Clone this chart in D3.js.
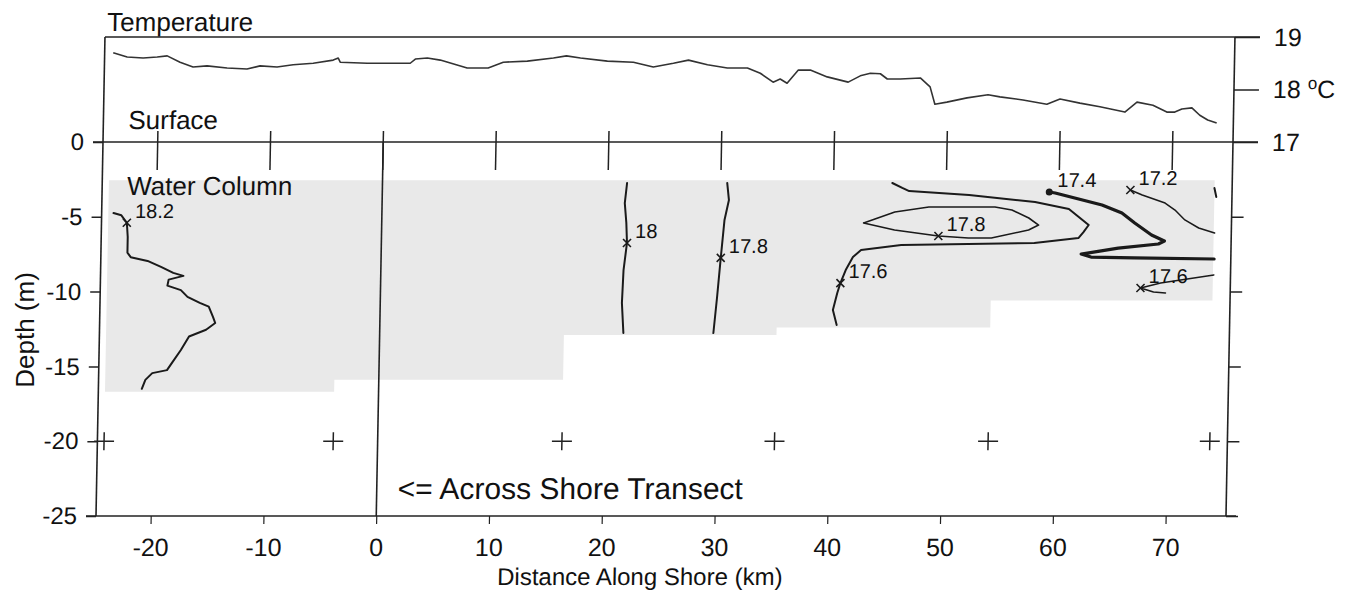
<!DOCTYPE html>
<html><head><meta charset="utf-8">
<script src="https://cdn.jsdelivr.net/npm/d3@7"></script>
<style>
html,body{margin:0;padding:0;background:#fff;}
svg{display:block;font-family:"Liberation Sans",Arial,Helvetica,sans-serif;}
</style></head><body>
<svg id="chart" width="1358" height="596"></svg>
<script>
// ---------------- DATA ----------------
const xTicks = [-20, -10, 0, 10, 20, 30, 40, 50, 60, 70];
const depthTicks = [0, -5, -10, -15, -20, -25];
const depthRightTicks = [-5, -10, -15, -20, -25];
const tempTicks = [17, 18, 19];
const tempUnit = "C";

// surface temperature along shore: [km, degC]
const surfaceTemperature = [
 [-24.09,18.70],[-22.85,18.62],[-21.43,18.60],[-20.19,18.62],[-19.30,18.64],[-18.15,18.52],
 [-16.99,18.43],[-15.75,18.45],[-13.97,18.41],[-12.20,18.39],[-11.05,18.45],[-9.54,18.43],
 [-8.12,18.47],[-6.34,18.50],[-4.57,18.56],[-4.13,18.60],[-3.95,18.52],[-1.55,18.50],
 [2.26,18.50],[2.71,18.58],[3.77,18.60],[4.92,18.56],[7.32,18.41],[9.18,18.41],
 [10.51,18.52],[12.64,18.54],[14.95,18.60],[16.10,18.64],[17.35,18.60],[19.74,18.54],
 [22.05,18.52],[23.82,18.43],[25.60,18.50],[26.93,18.56],[28.62,18.47],[30.39,18.41],
 [32.17,18.41],[33.32,18.31],[34.47,18.14],[35.09,18.20],[35.71,18.12],[36.69,18.37],
 [37.75,18.37],[39.26,18.24],[41.13,18.14],[42.19,18.26],[43.08,18.31],[43.97,18.30],
 [44.59,18.20],[45.74,18.20],[47.52,18.22],[48.40,18.05],[48.85,17.72],[49.91,17.76],
 [51.69,17.84],[53.55,17.90],[54.61,17.86],[56.66,17.80],[58.78,17.72],[59.94,17.82],
 [61.71,17.74],[63.49,17.67],[65.71,17.57],[66.77,17.76],[68.19,17.70],[69.43,17.57],
 [70.14,17.57],[70.76,17.63],[71.65,17.65],[72.36,17.51],[73.07,17.42],[73.87,17.36]
];

// station positions (km) at depth -20 m
const stationKm = [-24.26, -3.94, 16.34, 35.19, 54.13, 73.79];
const stationDepth = -20;

// sampled water column coverage between stations: top depth and bottom depth per segment
const coverageTop = -2.55;
const coverageBottom = [-16.7, -15.9, -12.9, -12.4, -10.6];

// across-shore water column profile (km, depth)
const profile182 = [
 [-23.8,-4.75],[-23.1,-4.9],[-22.6,-5.4],[-22.5,-6.35],[-22.5,-7.4],[-22.2,-7.7],[-20.7,-7.95],
 [-19.5,-8.35],[-18.4,-8.75],[-17.5,-8.95],[-18.8,-9.2],[-18.9,-9.6],[-17.7,-9.9],[-17.1,-10.35],
 [-16.0,-10.75],[-15.2,-11.0],[-14.8,-11.7],[-14.6,-12.1],[-15.4,-12.55],[-16.9,-13.0],
 [-17.6,-13.9],[-18.4,-14.8],[-18.8,-15.25],[-20.1,-15.45],[-20.7,-15.9],[-21.0,-16.5]
];
const contour18 = [[21.69,-2.74],[21.52,-4.08],[21.69,-5.41],[21.78,-6.75],[21.52,-8.56],[21.43,-10.76],[21.61,-12.77]];
const contour178a = [[30.57,-2.74],[30.75,-3.88],[30.39,-5.21],[30.12,-7.75],[29.86,-10.36],[29.59,-12.77]];
const contour176a = [
 [45.21,-2.74],[46.10,-3.07],[46.72,-3.28],[52.04,-3.54],[57.90,-4.01],[60.91,-4.48],[61.80,-5.01],
 [62.69,-5.55],[62.24,-6.02],[61.80,-6.42],[57.90,-6.75],[46.10,-6.89],[42.55,-7.22],[41.84,-7.69],
 [41.22,-8.56],[40.77,-9.43],[40.51,-10.09],[40.15,-11.23],[40.51,-12.23]
];
const contour178b = [
 [42.73,-5.41],[45.48,-4.68],[48.49,-4.34],[54.35,-4.34],[55.86,-4.55],[57.37,-5.08],[58.25,-5.55],
 [57.37,-5.88],[54.08,-6.42],[52.04,-6.42],[49.38,-6.28],[45.48,-5.88],[42.73,-5.41]
];
const contour174 = [
 [59.14,-3.34],[59.67,-3.41],[63.84,-4.21],[65.62,-4.75],[66.77,-5.41],[68.28,-6.22],[69.43,-6.62],
 [68.90,-6.82],[65.35,-7.09],[62.07,-7.49],[62.95,-7.69],[66.77,-7.75],[73.87,-7.82]
];
const contour172 = [[66.33,-3.21],[67.39,-3.54],[69.43,-4.08],[70.32,-4.55],[71.21,-5.21],[72.45,-5.75],[73.87,-6.08]];
const contourStub = [[73.78,-3.07],[73.96,-3.68]];
const contour176b = [[73.87,-8.89],[69.17,-9.43],[67.39,-9.76],[68.55,-10.03],[69.61,-10.09]];

// labelled isotherms
const isoLabels = ["18.2", "18", "17.8", "17.6", "17.8", "17.4", "17.2", "17.6"];
const isoAnchors = [[-22.6,-5.4],[21.78,-6.75],[30.12,-7.75],[40.77,-9.43],[49.38,-6.28],[59.14,-3.34],[66.33,-3.21],[67.39,-9.76]];
const isoLines = [profile182, contour18, contour178a, contour176a, contour178b, contour174, contour172, contour176b];

// ---------------- LAYOUT ----------------
const svg = d3.select("#chart");
const L = 96, R = 1226, TOP = 37, Y0 = 142, B = 516;
const ink = "#222";
const FONT = "Liberation Sans, Arial, sans-serif";
const fmt = d => String(d); // plain hyphen-minus as in the original
const x = d3.scaleLinear().domain([-24.85, 75.35]).range([L, R]);
const yD = d3.scaleLinear().domain([0, -25]).range([Y0, B]);
const yT = d3.scaleLinear().domain([17, 19]).range([Y0, TOP]);

// scanned original is slightly sheared
const skew = Math.atan(-7 / (B - Y0)) * 180 / Math.PI;
const g = svg.append("g").attr("transform", `translate(0,${B}) skewX(${skew}) translate(0,${-B})`);

// coverage shading (single stepped area)
const covPts = coverageBottom.map((b, i) => [stationKm[i], b]).concat([[stationKm[stationKm.length - 1], coverageBottom[coverageBottom.length - 1]]]);
g.append("path").datum(covPts)
  .attr("d", d3.area().x(d => x(d[0])).y0(yD(coverageTop)).y1(d => yD(d[1])).curve(d3.curveStepAfter))
  .attr("fill", "#e9e9e9");

// frame
const frame = g.append("g").attr("stroke", ink).attr("stroke-width", 1.6).attr("fill", "none");
frame.append("line").attr("x1", L).attr("x2", R + 25).attr("y1", TOP).attr("y2", TOP);
frame.append("line").attr("x1", L - 10).attr("x2", R + 25).attr("y1", Y0).attr("y2", Y0);
frame.append("line").attr("x1", L).attr("x2", L).attr("y1", TOP).attr("y2", B);
frame.append("line").attr("x1", R).attr("x2", R).attr("y1", TOP).attr("y2", B);
frame.append("line").attr("x1", x(0)).attr("x2", x(0)).attr("y1", Y0).attr("y2", B);

// top tick marks (surface line)
g.append("g").selectAll("line").data(xTicks).join("line")
  .attr("x1", d => x(d)).attr("x2", d => x(d))
  .attr("y1", Y0 - 11).attr("y2", Y0 + 28)
  .attr("stroke", ink).attr("stroke-width", 1.5);

// bottom axis
const axB = g.append("g").attr("transform", `translate(0,${B})`)
  .call(d3.axisBottom(x).tickValues(xTicks).tickSize(8).tickPadding(14).tickSizeOuter(0).tickFormat(fmt));
axB.select(".domain").remove();
axB.append("line").attr("x1", L - 10).attr("x2", R + 10).attr("stroke", ink).attr("stroke-width", 1.6);
axB.selectAll(".tick line").attr("stroke", ink).attr("stroke-width", 1.2);
axB.selectAll("text").attr("font-size", 25).attr("fill", "#111").attr("font-family", FONT);

// left depth axis
const axL = g.append("g").attr("transform", `translate(${L},0)`)
  .call(d3.axisLeft(yD).tickValues(depthTicks).tickSize(10).tickPadding(9).tickFormat(fmt));
axL.select(".domain").remove();
axL.selectAll(".tick line").attr("stroke", ink).attr("stroke-width", 1.5);
axL.selectAll("text").attr("font-size", 24).attr("fill", "#111").attr("font-family", FONT);

// right depth ticks
const axR = g.append("g").attr("transform", `translate(${R},0)`)
  .call(d3.axisRight(yD).tickValues(depthRightTicks).tickSize(12).tickFormat(""));
axR.select(".domain").remove();
axR.selectAll(".tick line").attr("stroke", ink).attr("stroke-width", 1.5);

// right temperature axis
const axT = g.append("g").attr("transform", `translate(${R},0)`)
  .call(d3.axisRight(yT).tickValues(tempTicks).tickSize(25).tickPadding(14).tickFormat(fmt));
axT.select(".domain").remove();
axT.selectAll(".tick line").attr("stroke", ink).attr("stroke-width", 1.5);
axT.selectAll("text").attr("font-size", 25).attr("fill", "#111").attr("font-family", FONT);
axT.selectAll(".tick text").filter(d => d === 18).each(function () {
  const t = d3.select(this);
  t.append("tspan").text(" ");
  t.append("tspan").attr("font-size", 17).attr("dy", "-0.55em").text("o");
  t.append("tspan").attr("dy", "0.37em").text(tempUnit);
});

// surface temperature line
const lineT = d3.line().x(d => x(d[0])).y(d => yT(d[1]));
g.append("path").datum(surfaceTemperature).attr("d", lineT)
  .attr("fill", "none").attr("stroke", "#333").attr("stroke-width", 1.6).attr("stroke-linejoin", "round");

// stations (+)
g.append("g").selectAll("path").data(stationKm).join("path")
  .attr("d", d => `M${x(d) - 10},${yD(stationDepth)}H${x(d) + 10}M${x(d)},${yD(stationDepth) - 9}V${yD(stationDepth) + 9}`)
  .attr("stroke", ink).attr("stroke-width", 1.5).attr("fill", "none");

// isotherms
const lineD = d3.line().x(d => x(d[0])).y(d => yD(d[1]));
const isoWidth = [2, 2, 2, 2, 1.6, 3.2, 1.5, 1.6];
const iso = g.append("g").attr("fill", "none").attr("stroke", "#1a1a1a").attr("stroke-linejoin", "round").attr("stroke-linecap", "round");
isoLines.forEach((pts, i) => {
  iso.append("path").datum(pts).attr("d", lineD).attr("stroke-width", isoWidth[i]);
});
iso.append("path").datum(contourStub).attr("d", lineD).attr("stroke-width", 2);

// markers and labels
isoAnchors.forEach((a, i) => {
  const px = x(a[0]), py = yD(a[1]);
  if (i === 5) {
    g.append("circle").attr("cx", px).attr("cy", py).attr("r", 3.5).attr("fill", "#1a1a1a");
  } else {
    g.append("path").attr("d", `M${px - 4},${py - 4}L${px + 4},${py + 4}M${px + 4},${py - 4}L${px - 4},${py + 4}`)
      .attr("stroke", "#1a1a1a").attr("stroke-width", 1.6);
  }
  g.append("text").attr("x", px + 8).attr("y", py - 5).attr("font-size", 20).attr("fill", "#111").text(isoLabels[i]);
});

// panel texts
g.append("text").attr("x", L + 2).attr("y", TOP - 6).attr("font-size", 26).attr("fill", "#111").text("Temperature");
g.append("text").attr("x", L + 25).attr("y", Y0 - 13).attr("font-size", 26).attr("fill", "#111").text("Surface");
g.append("text").attr("x", L + 25).attr("y", Y0 + 53).attr("font-size", 26).attr("fill", "#111").text("Water Column");
g.append("text").attr("x", x(0) + 21).attr("y", B - 17).attr("font-size", 30).attr("fill", "#111").text("<= Across Shore Transect");
g.append("text").attr("x", 641).attr("y", 585).attr("text-anchor", "middle").attr("font-size", 24).attr("fill", "#111").text("Distance Along Shore (km)");

// y title
svg.append("text").attr("transform", `translate(34,330) rotate(-90)`).attr("text-anchor", "middle")
  .attr("font-size", 26).attr("fill", "#111").text("Depth (m)");
</script>
</body></html>
